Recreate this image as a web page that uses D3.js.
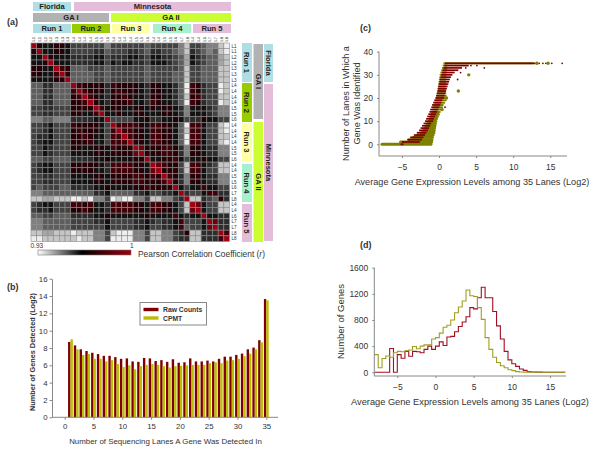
<!DOCTYPE html>
<html><head><meta charset="utf-8">
<script src="https://cdn.jsdelivr.net/npm/d3@7"></script>
<style>html,body{margin:0;padding:0;background:#fff}svg{display:block}text{font-family:"Liberation Sans",Arial,sans-serif;fill:#333}</style>
</head><body><svg id="c" width="600" height="464"></svg>
<script>
// ---------- data ----------
const laneLabels=["L1","L1","L2","L2","L3","L3","L3","L4","L4","L4","L4","L5","L5","L6","L4","L4","L4","L4","L5","L5","L6","L4","L4","L5","L5","L6","L7","L8","L4","L4","L6","L7","L7","L8","L8"];
// correlation levels, hex digit per cell: 0 = r 0.93 ... b = r 1
const corrLevels=[
"b877887 5555 55 3 5555 55 4 55 55 5 3 1 55 4 33 10",
"8b77887 5555 66 4 5556 65 4 66 55 4 3 1 65 4 34 10",
"77b8777 6666 77 5 6667 76 5 77 66 5 4 2 76 5 44 21",
"778b777 6666 77 5 7677 66 5 77 76 5 4 2 76 5 44 21",
"8877b98 4445 55 4 5555 55 4 55 55 5 4 1 55 4 44 11",
"88779b8 4444 55 4 5555 55 4 55 55 4 4 1 55 4 44 11",
"777788b 4444 55 4 5555 55 4 55 55 4 4 1 55 4 44 11",
"4466444 b988 88 6 9888 87 6 88 77 6 4 0 98 6 55 01",
"4466444 9b98 88 6 8988 87 6 88 77 6 4 0 98 6 55 01",
"4466444 89b9 87 6 8898 77 6 88 77 6 4 1 89 6 55 11",
"4466444 889b 87 6 8889 77 6 98 77 6 4 0 98 6 55 01",
"5566555 8888 b9 7 8877 88 7 87 88 7 6 3 77 7 65 33",
"5566555 8877 9b 7 7877 88 7 77 88 7 6 3 77 7 65 33",
"3344333 6666 77 b 5555 77 8 66 77 8 7 5 66 8 77 55",
"5567555 9888 87 5 b999 98 7 99 88 7 4 0 99 7 55 10",
"5567555 8988 87 5 9b99 88 7 99 88 7 4 1 99 7 55 10",
"5667555 8898 77 5 99b9 88 7 99 88 7 4 0 99 7 55 11",
"5677555 8889 77 5 999b 88 7 99 88 7 4 0 99 7 55 10",
"5576555 8877 88 7 9888 ba 8 88 99 8 6 3 88 7 66 33",
"5576555 7777 88 7 8888 ab 8 88 99 8 6 3 88 7 66 33",
"4455444 6666 77 8 7777 88 b 77 88 9 7 5 77 8 77 55",
"5677555 8888 87 6 9999 88 7 ba 98 8 5 1 99 7 65 11",
"5677555 8888 77 6 9999 88 7 ab 88 8 5 1 99 7 55 11",
"5566555 7777 88 7 8888 99 8 98 b9 8 6 3 88 7 66 33",
"5566555 7777 88 7 8888 99 8 88 9b 8 6 3 88 7 66 33",
"5455544 6666 77 8 7777 88 9 88 88 b 7 5 77 9 77 55",
"3344444 4444 66 7 4444 66 7 55 66 7 b 6 55 7 99 66",
"1122111 0010 33 5 0100 33 5 11 33 5 6 b 11 6 54 86",
"5677555 9989 77 6 9999 88 7 99 88 7 5 1 ba 7 55 11",
"5667555 8898 77 6 9999 88 7 99 88 7 5 1 ab 7 55 11",
"4455444 6666 77 8 7777 77 8 77 77 9 7 6 77 b 77 66",
"3344444 5555 66 7 5555 66 7 65 66 7 9 5 55 7 ba 66",
"3344444 5555 55 7 5555 66 7 55 66 7 9 4 55 7 ab 66",
"1122111 0111 33 5 1000 33 5 11 33 5 6 8 11 6 66 b9",
"0011111 1011 33 5 0000 33 5 11 33 5 6 6 11 6 66 9b"
];
const levelColors=["#eeeeee","#c6c6c6","#a6a6a6","#808080","#5e5e5e","#424242","#2c2c2c","#121212","#260006","#420008","#6c000c","#a00012"];
const topStrips=[["Florida",33,71,2,11,"#b0dfe5"],["Minnesota",74,231,2,11,"#e3bdd9"],["GA I",33,109,13,22,"#b2b2b2"],["GA II",111,231,13,22,"#ccff33"],["Run 1",33,71,24,33,"#aedde3"],["Run 2",72,110,24,33,"#99cc00"],["Run 3",112,150,24,33,"#ffffa6"],["Run 4",153,191,24,33,"#a8f0cd"],["Run 5",193,231,24,33,"#e3bdd9"]];
const sideStrips=[["Run 1",242,252,43,82,"#aedde3"],["Run 2",242,252,83,122,"#99cc00"],["Run 3",242,252,123,161,"#ffffa6"],["Run 4",242,252,164,202,"#a8f0cd"],["Run 5",242,252,204,242,"#e3bdd9"],["GA I",253.5,263,44,119,"#b2b2b2"],["GA II",253.5,263,122,242,"#ccff33"],["Florida",264,273,44,82,"#b0dfe5"],["Minnesota",264,273,84,241,"#e3bdd9"]];

const laneNumbers=d3.range(1,36);
const rawCounts=[8.7,8.3,7.85,7.65,7.45,7.3,7.1,7.1,6.95,6.75,6.8,6.45,6.4,6.85,6.8,6.5,6.6,6.4,6.7,6.3,6.35,6.8,6.45,6.45,6.55,6.45,6.75,7.0,7.0,7.2,7.35,7.85,8.05,8.9,13.65];
const cpmtCounts=[9.0,7.85,7.2,7.3,6.75,6.75,6.45,6.6,6.15,5.8,6.0,5.55,5.9,6.05,6.15,6.05,5.9,5.75,5.9,5.95,6.0,6.05,6.05,6.05,6.25,6.35,6.25,6.55,6.6,6.75,7.05,7.35,7.85,8.65,13.5];

// (c): expression range of the genes found in each lane count 0..35
const rawLow=[-5.2,-5.0,-4.3,-3.9,-3.4,-3.0,-2.7,-2.5,-2.3,-2.1,-1.9,-1.75,-1.6,-1.45,-1.3,-1.2,-1.05,-0.95,-0.8,-0.65,-0.5,-0.4,-0.3,-0.2,-0.15,-0.1,0,0.05,0.1,0.2,0.3,0.4,0.5,0.6,0.7,0.8];
const rawHigh=[-4.8,-2.6,-2.3,-2.1,-1.9,-1.7,-1.5,-1.35,-1.2,-1.05,-0.8,-0.7,-0.55,-0.4,-0.25,-0.1,0.05,0.15,0.3,0.45,0.65,0.75,0.85,0.95,1.05,1.15,1.25,1.35,1.45,1.6,1.8,2.1,2.6,3.1,4.0,13];
const cpmtLow=[-7.7,-5.2,-4.0,-3.4,-2.9,-2.4,-2.1,-1.9,-1.7,-1.5,-1.3,-1.2,-1.1,-1.0,-0.9,-0.8,-0.7,-0.6,-0.5,-0.4,-0.3,-0.3,-0.2,-0.15,-0.1,-0.05,0,0.05,0.1,0.15,0.2,0.3,0.4,0.5,0.6,0.7];
const cpmtHigh=[-1.1,-1.0,-0.95,-0.9,-0.8,-0.7,-0.65,-0.6,-0.55,-0.5,-0.45,-0.35,-0.25,-0.1,0.1,0.3,0.4,0.5,0.7,0.9,1.0,0.9,0.85,0.8,0.8,0.8,0.8,0.85,0.85,0.9,0.9,0.95,1,1,1,12.6];
const rawOutliers=[[13.2,35],[13.5,35],[14,35],[14.4,35],[15.2,35],[16.6,35],[6.1,33],[5.1,34],[4.3,34],[3.6,33],[2.9,31],[2.5,28],[0.8,16],[-4.9,1],[-4.1,2],[-3.5,3]];
const cpmtOutliers=[[14.7,35],[13.2,35],[4.0,30],[2.6,23],[1.0,20],[0.4,15]];

// (d): histogram, bins of 0.5 starting at -8
const binStarts=d3.range(50).map(i=>-8+i*0.5);
const rawHist=[0,0,0,0,365,0,270,215,320,245,320,315,300,350,400,350,400,465,410,540,550,620,700,770,850,990,970,1140,1300,1140,1140,930,710,510,320,190,130,90,50,30,10,5,3,2,1,0,0,0,0,0];
const cpmtHist=[270,70,210,250,230,300,320,315,330,340,395,360,400,420,420,510,530,600,690,720,800,910,1000,1090,1260,1170,1160,990,810,530,350,230,150,100,70,40,25,10,5,3,2,1,1,0,0,0,0,0,0,0];

const RED="#800000", OLIVE="#bcbc00", DOT="#808000", HRED="#a01020", HOL="#a0a020", AX="#888";
// ---------- helpers ----------
const svg=d3.select("#c");
function txt(x,y,s,size,opt={}){const t=svg.append("text").attr("x",x).attr("y",y).attr("font-size",size).text(s);
 if(opt.anchor)t.attr("text-anchor",opt.anchor); if(opt.bold)t.attr("font-weight","bold"); if(opt.rot!=null)t.attr("transform",`rotate(${opt.rot} ${x} ${y})`); if(opt.fill)t.style("fill",opt.fill); return t;}
function styleAxis(g,fs){g.selectAll("path,line").attr("stroke",AX).attr("stroke-width",1);g.selectAll("text").attr("font-size",fs).style("fill","#333");}
[["(a)",7,25],["(b)",7,290],["(c)",360,31],["(d)",360,248]].forEach(d=>txt(d[1],d[2],d[0],9,{bold:true}));

// ---------- (a) heatmap ----------
const hx=d3.scaleBand().domain(d3.range(35)).range([31,229.5]);
const hy=d3.scaleBand().domain(d3.range(35)).range([43,241.5]);
const heat=d3.scaleOrdinal().domain(d3.range(12)).range(levelColors);
const cells=corrLevels.flatMap((row,r)=>row.replace(/ /g,"").split("").map((c,k)=>({r,k,v:parseInt(c,16)})));
svg.append("g").selectAll("rect").data(cells).join("rect")
 .attr("x",d=>hx(d.k)).attr("y",d=>hy(d.r)).attr("width",hx.bandwidth()).attr("height",hy.bandwidth())
 .attr("fill",d=>heat(d.v)).attr("stroke","#8c8c8c").attr("stroke-width",0.6);
laneLabels.forEach((l,i)=>{
 txt(231.5,hy(i)+hy.bandwidth()/2+1.7,l,4.6);
 txt(hx(i)+hx.bandwidth()/2+1.6,41.5,l,4.2,{rot:-90});
});
topStrips.forEach(d=>{svg.append("rect").attr("x",d[1]).attr("y",d[3]).attr("width",d[2]-d[1]).attr("height",d[4]-d[3]).attr("fill",d[5]);
 txt((d[1]+d[2])/2,d[4]-1.7,d[0],7.6,{anchor:"middle",bold:true,fill:"#222"});});
sideStrips.forEach(d=>{svg.append("rect").attr("x",d[1]).attr("y",d[3]).attr("width",d[2]-d[1]).attr("height",d[4]-d[3]).attr("fill",d[5]);
 const cx=(d[1]+d[2])/2-2.6, cy=(d[3]+d[4])/2; txt(cx,cy,d[0],7.6,{anchor:"middle",bold:true,rot:90,fill:"#222"});});
// colour bar
const defs=svg.append("defs"), lg=defs.append("linearGradient").attr("id","cb");
[[0,"#ffffff"],[0.47,"#000000"],[1,"#a00010"]].forEach(s=>lg.append("stop").attr("offset",s[0]).attr("stop-color",s[1]));
svg.append("rect").attr("x",38).attr("y",250).attr("width",93).attr("height",5).attr("fill","url(#cb)").attr("stroke","#777").attr("stroke-width",0.6);
txt(30.5,248,"0.93",6.5); txt(130,248,"1",6.5);
svg.append("text").attr("x",138).attr("y",257).attr("font-size",8.4).html('Pearson Correlation Coefficient (<tspan font-style="italic">r</tspan>)');

// ---------- (b) bars ----------
const bx=d3.scaleLinear().domain([0,35]).range([64.7,266.3]);
const by=d3.scaleLinear().domain([0,16]).range([417.3,278.7]);
svg.append("g").selectAll("rect").data(laneNumbers).join("rect").attr("x",d=>bx(d)-2.4).attr("width",2.4).attr("y",(d,i)=>by(rawCounts[i])).attr("height",(d,i)=>by(0)-by(rawCounts[i])).attr("fill",RED);
svg.append("g").selectAll("rect").data(laneNumbers).join("rect").attr("x",d=>bx(d)).attr("width",2.4).attr("y",(d,i)=>by(cpmtCounts[i])).attr("height",(d,i)=>by(0)-by(cpmtCounts[i])).attr("fill",OLIVE);
const bxa=svg.append("g").attr("transform","translate(0,417.3)").call(d3.axisBottom(bx).tickValues(d3.range(0,36,5)).tickSize(2.5).tickSizeOuter(0).tickPadding(4));
bxa.select("path").attr("d","M52,0H278"); styleAxis(bxa,7.8);
const bya=svg.append("g").attr("transform","translate(52,0)").call(d3.axisLeft(by).tickValues(d3.range(0,17,2)).tickSize(2.5).tickSizeOuter(0).tickPadding(2)); styleAxis(bya,7.8);
txt(165.5,444,"Number of Sequencing Lanes A Gene Was Detected In",7.9,{anchor:"middle"});
txt(35,352,"Number of Genes Detected (Log2)",7.3,{anchor:"middle",bold:true,rot:-90});
svg.append("rect").attr("x",140).attr("y",302.5).attr("width",66.5).attr("height",22.5).attr("fill","#fff").attr("stroke","#888");
[["Raw Counts",RED,309.5],["CPMT",OLIVE,318]].forEach(d=>{svg.append("rect").attr("x",143.5).attr("y",d[2]-1.7).attr("width",15).attr("height",3.4).attr("fill",d[1]);txt(163,d[2]+2.5,d[0],6.8,{bold:true});});

// ---------- (c) scatter ----------
const cx=d3.scaleLinear().domain([-5,15]).range([402,550.3]);
const cy=d3.scaleLinear().domain([0,40]).range([144.3,51.7]);
const lanes=d3.range(36);
svg.append("g").selectAll("line").data(lanes).join("line").attr("x1",i=>cx(cpmtLow[i])).attr("x2",i=>cx(cpmtHigh[i])).attr("y1",i=>cy(i)).attr("y2",i=>cy(i)).attr("stroke",DOT).attr("stroke-width",i=>i<14?3:2).attr("stroke-linecap","round");
svg.append("g").selectAll("line").data(lanes).join("line").attr("x1",i=>cx(rawLow[i])).attr("x2",i=>cx(rawHigh[i])).attr("y1",i=>cy(i)).attr("y2",i=>cy(i)).attr("stroke",RED).attr("stroke-width",1.7);
svg.append("g").selectAll("circle").data(rawOutliers).join("circle").attr("cx",d=>cx(d[0])).attr("cy",d=>cy(d[1])).attr("r",0.9).attr("fill",RED);
svg.append("g").selectAll("circle").data(cpmtOutliers).join("circle").attr("cx",d=>cx(d[0])).attr("cy",d=>cy(d[1])).attr("r",1.7).attr("fill",DOT);
const cxa=svg.append("g").attr("transform","translate(0,156)").call(d3.axisBottom(cx).tickValues([-5,0,5,10,15]).tickSize(2).tickSizeOuter(0).tickPadding(6));
cxa.select("path").attr("d","M379,0H567"); styleAxis(cxa,8.5);
const cya=svg.append("g").attr("transform","translate(379,0)").call(d3.axisLeft(cy).tickValues([0,10,20,30,40]).tickSize(2).tickSizeOuter(0).tickPadding(4));
cya.select("path").attr("d","M0,51.7V156"); styleAxis(cya,8.5);
txt(472,185,"Average Gene Expression Levels among 35 Lanes (Log2)",9.15,{anchor:"middle"});
txt(349,103.5,"Number of Lanes in Which a",9.1,{anchor:"middle",rot:-90});
txt(360,103.5,"Gene Was Identified",9.1,{anchor:"middle",rot:-90});

// ---------- (d) histogram ----------
const dx=d3.scaleLinear().domain([-5,15]).range([397.3,550]);
const dy=d3.scaleLinear().domain([0,1600]).range([372.3,267.7]);
const stepLine=d3.line().x(d=>dx(d[0])).y(d=>dy(d[1])).curve(d3.curveStepAfter);
function hist(vals,col){const pts=binStarts.map((b,i)=>[b,vals[i]]);pts.push([17,vals[vals.length-1]]);
 svg.append("path").attr("d",stepLine(pts)).attr("fill","none").attr("stroke",col).attr("stroke-width",1.1);}
hist(rawHist,HRED); hist(cpmtHist,HOL);
const dxa=svg.append("g").attr("transform","translate(0,376)").call(d3.axisBottom(dx).tickValues([-5,0,5,10,15]).tickSize(2).tickSizeOuter(0).tickPadding(6));
dxa.select("path").attr("d","M374.3,0H566"); styleAxis(dxa,8.5);
const dya=svg.append("g").attr("transform","translate(374.3,0)").call(d3.axisLeft(dy).tickValues([0,400,800,1200,1600]).tickFormat(d3.format("d")).tickSize(2).tickSizeOuter(0).tickPadding(4));
dya.select("path").attr("d","M0,267.7V376"); styleAxis(dya,8.5);
txt(470,405,"Average Gene Expression Levels among 35 Lanes (Log2)",9.25,{anchor:"middle"});
txt(344,321.5,"Number of Genes",9.5,{anchor:"middle",rot:-90});
</script></body></html>
